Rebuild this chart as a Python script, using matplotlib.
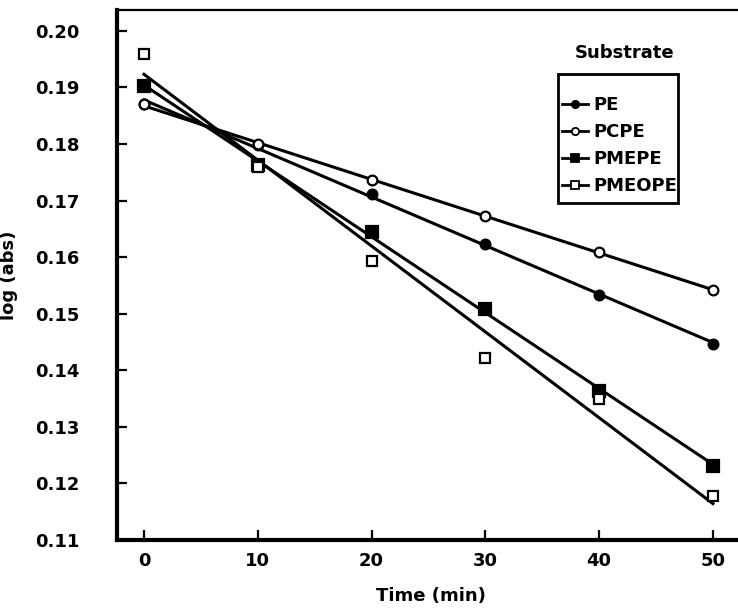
import numpy as np
import matplotlib
matplotlib.use("Agg")
import matplotlib.pyplot as plt
from matplotlib.patches import Rectangle

plt.rcParams['font.family'] = ['DejaVu Sans']
plt.rcParams['font.weight'] = 'bold'

time_min = [0, 10, 20, 30, 40, 50]
pe = [0.1870, 0.1798, 0.1711, 0.1623, 0.1533, 0.1446]
pcpe = [0.1870, 0.1800, 0.1736, 0.1673, 0.1609, 0.1542]
pmepe = [0.1903, 0.1763, 0.1645, 0.1508, 0.1364, 0.1231]
pmeope = [0.1960, 0.1760, 0.1594, 0.1421, 0.1350, 0.1178]

series = [
    ("PE", pe, dict(marker="o", mfc="black", ms=7)),
    ("PCPE", pcpe, dict(marker="o", mfc="white", ms=7)),
    ("PMEPE", pmepe, dict(marker="s", mfc="black", ms=8.5)),
    ("PMEOPE", pmeope, dict(marker="s", mfc="white", ms=7.5)),
]

fig = plt.figure(figsize=(7.38, 6.12), dpi=100)
ax = fig.add_axes([117 / 738, 72 / 612, 1.0 - 117 / 738 + 0.01, 530 / 612])

xfit = np.array([0, 50])
handles = []
for name, vals, mk in series:
    # regression line through the points, like the original
    k, b = np.polyfit(time_min, vals, 1)
    ax.plot(xfit, k * xfit + b, color="black", lw=2.2, zorder=2)
    ax.plot(time_min, vals, ls="none", color="black", mec="black", mew=1.6,
            zorder=3, **mk)
    h, = ax.plot([], [], color="black", lw=2.0, mec="black", mew=1.3,
                 marker=mk["marker"], mfc=mk["mfc"], ms=mk["ms"] * 0.75)
    handles.append((h, name))

ax.set_xlim(-2.37, 52.85)
ax.set_ylim(0.11, 0.2037)
ax.set_xticks(time_min)
yt = np.arange(0.11, 0.2001, 0.01)
ax.set_yticks(yt)
ax.set_yticklabels([f"{v:.2f}" for v in yt])

ax.tick_params(direction="in", length=7, width=1.6, labelsize=13)
ax.tick_params(axis="x", pad=9)
ax.tick_params(axis="y", pad=27)
for lab in ax.get_xticklabels() + ax.get_yticklabels():
    lab.set_fontweight("bold")

ax.spines["left"].set_linewidth(3)
ax.spines["bottom"].set_linewidth(3)
ax.spines["top"].set_linewidth(1.6)
ax.spines["right"].set_visible(False)

ax.set_xlabel("Time (min)", fontsize=13, fontweight="bold", labelpad=12)
ax.set_ylabel("log (abs)", fontsize=13, fontweight="bold")
ax.yaxis.set_label_coords(-0.158, 0.5)

leg = ax.legend([h for h, _ in handles], [n for _, n in handles],
                loc="upper left", bbox_to_anchor=(0.708, 0.838),
                frameon=False, fontsize=13,
                handlelength=1.45, handletextpad=0.3, labelspacing=0.5,
                borderpad=0, borderaxespad=0)
for t in leg.get_texts():
    t.set_fontweight("bold")

# legend box is drawn on its own, padding in the original is uneven
fig.patches.append(Rectangle((558 / 738, 1 - 203 / 612), 120 / 738, 129 / 612,
                             transform=fig.transFigure, fill=False,
                             edgecolor="black", linewidth=2))

fig.text(625 / 738, 1 - 53 / 612, "Substrate", ha="center", va="center",
         fontsize=13, fontweight="bold")

fig.savefig("out.png", dpi=100)
